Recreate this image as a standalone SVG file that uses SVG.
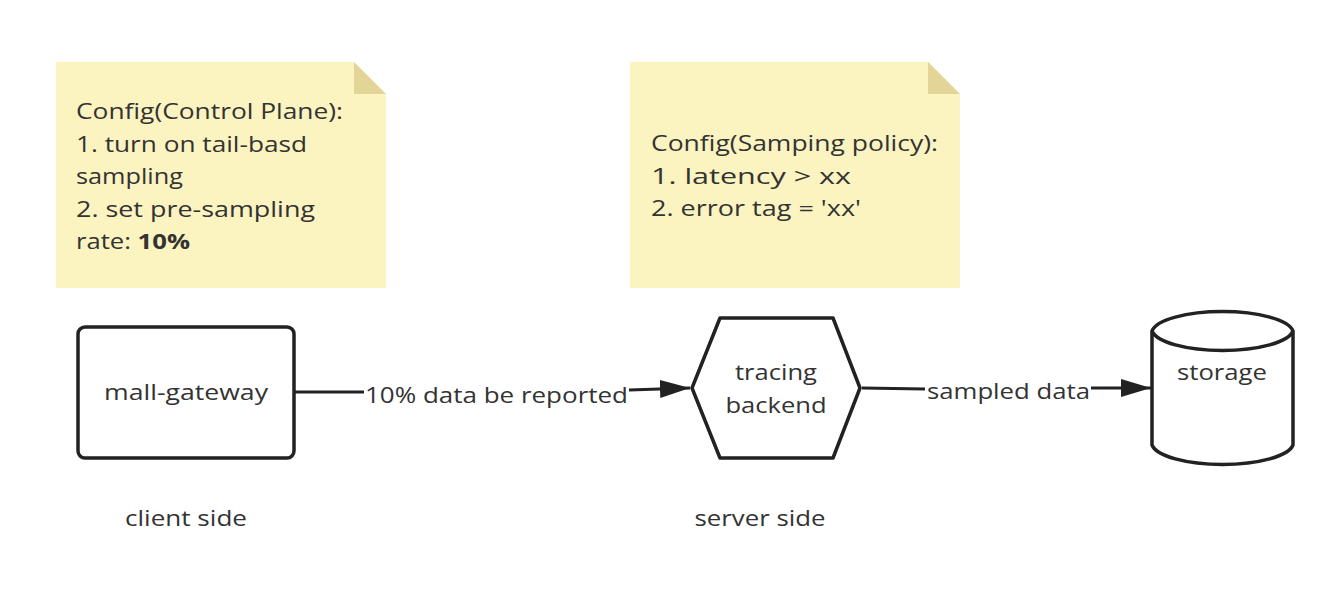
<svg xmlns="http://www.w3.org/2000/svg" width="1332" height="616" viewBox="0 0 1332 616">
<defs>
<style>
text{font-family:"Open Sans","Noto Sans","Liberation Sans",sans-serif;font-size:22px;fill:#333}
.shape{fill:#fff;stroke:#222;stroke-width:3.5;stroke-linejoin:round}
.note{fill:#fcf4c0}
.fold{fill:#e3d597}
.edge{fill:none;stroke:#222;stroke-width:3}
.mid{text-anchor:middle}
</style>
<marker id="arr" markerUnits="userSpaceOnUse" markerWidth="32" markerHeight="20" refX="30" refY="10" orient="auto">
<path d="M0,1 L30,10 L0,19 Z" fill="#222"/>
</marker>
</defs>
<rect width="1332" height="616" fill="#fff"/>

<g id="note-control-plane">
<path class="note" d="M56,62 H354 L386,94 V288 H56 Z"/>
<path class="fold" d="M354,62 L386,94 H354 Z"/>
<text x="76" y="119" textLength="267" lengthAdjust="spacingAndGlyphs">Config(Control Plane):</text>
<text x="76" y="152" textLength="231" lengthAdjust="spacingAndGlyphs">1. turn on tail-basd</text>
<text x="76" y="184" textLength="107" lengthAdjust="spacingAndGlyphs">sampling</text>
<text x="76" y="217" textLength="239" lengthAdjust="spacingAndGlyphs">2. set pre-sampling</text>
<text x="76" y="249" textLength="114" lengthAdjust="spacingAndGlyphs">rate: <tspan font-weight="bold">10%</tspan></text>
</g>

<g id="note-sampling-policy">
<path class="note" d="M630,62 H928 L960,94 V288 H630 Z"/>
<path class="fold" d="M928,62 L960,94 H928 Z"/>
<text x="651" y="151" textLength="287" lengthAdjust="spacingAndGlyphs">Config(Samping policy):</text>
<text x="651" y="184" textLength="200" lengthAdjust="spacingAndGlyphs">1. latency &gt; xx</text>
<text x="651" y="216" textLength="210" lengthAdjust="spacingAndGlyphs">2. error tag = 'xx'</text>
</g>

<g id="connectors">
<path class="edge" d="M294,392 L364,392"/>
<path class="edge" d="M629,390 L690,388" marker-end="url(#arr)"/>
<text x="365" y="403" textLength="263" lengthAdjust="spacingAndGlyphs">10% data be reported</text>
<path class="edge" d="M862,388 L925,389"/>
<path class="edge" d="M1091,388 L1151,388" marker-end="url(#arr)"/>
<text x="927" y="399" textLength="163" lengthAdjust="spacingAndGlyphs">sampled data</text>
</g>

<g id="mall-gateway">
<rect class="shape" x="78" y="327" width="216" height="131" rx="7"/>
<text x="186" y="400" class="mid" textLength="164" lengthAdjust="spacingAndGlyphs">mall-gateway</text>
</g>

<g id="tracing-backend">
<path class="shape" d="M692,388 L720,318 H833 L860,388 L833,458 H720 Z"/>
<text x="776" y="380" class="mid" textLength="82" lengthAdjust="spacingAndGlyphs">tracing</text>
<text x="776" y="413" class="mid" textLength="101" lengthAdjust="spacingAndGlyphs">backend</text>
</g>

<g id="storage">
<path class="shape" d="M1152,331 A71,22 0 0 1 1293,331 V445 A71,22 0 0 1 1152,445 Z"/>
<path class="shape" fill="none" d="M1152,331 A71,22 0 0 0 1293,331"/>
<text x="1222" y="380" class="mid" textLength="90" lengthAdjust="spacingAndGlyphs">storage</text>
</g>

<g id="labels">
<text x="186" y="526" class="mid" textLength="122" lengthAdjust="spacingAndGlyphs">client side</text>
<text x="760" y="526" class="mid" textLength="131" lengthAdjust="spacingAndGlyphs">server side</text>
</g>
</svg>
